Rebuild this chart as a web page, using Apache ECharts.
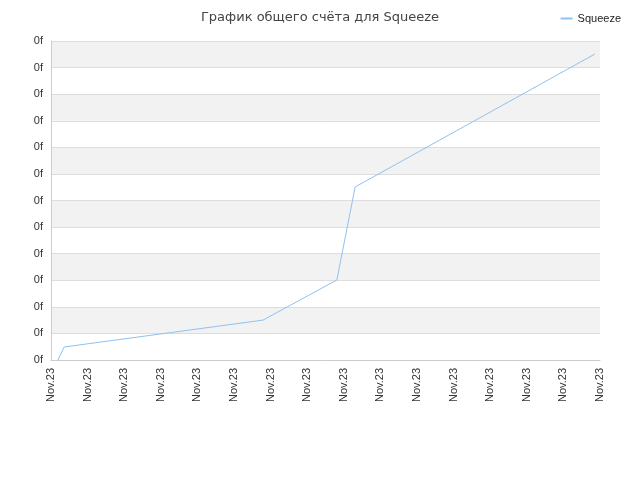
<!DOCTYPE html>
<html><head><meta charset="utf-8">
<script src="https://cdn.jsdelivr.net/npm/echarts@6/dist/echarts.min.js"></script>
<style>body{margin:0}#c{width:640px;height:480px}</style>
</head><body><div id="c"></div>
<script>
const titleText = 'График общего счёта для Squeeze';
const seriesName = 'Squeeze';
const xTickLabel = 'Nov.23';
const yTickLabel = '0f';
const xs = [0.19, 0.36, 5.79, 7.81, 8.31, 14.86];
const ys = [0, 0.49, 1.5, 3.01, 6.51, 11.51];

const ch = echarts.init(document.getElementById('c'));
ch.setOption({
    animation: false,
    title: { text: titleText, left: 'center', top: 6, textStyle: { fontSize: 13, fontWeight: 'normal', color: '#444', fontFamily: 'DejaVu Sans' } },
    legend: { right: 14, top: 8, itemWidth: 12, itemHeight: 2, icon: 'rect', textStyle: { fontSize: 11, color: '#222' }, data: [seriesName] },
    grid: { left: 51, right: 40, top: 41, bottom: 120 },
    xAxis: {
        type: 'value', min: 0, max: 15, interval: 1,
        axisLine: { lineStyle: { color: '#ccc' } }, axisTick: { show: false },
        splitLine: { show: false },
        axisLabel: { rotate: 90, formatter: () => xTickLabel, color: '#333', fontSize: 11 }
    },
    yAxis: {
        type: 'value', min: 0, max: 12, interval: 1,
        axisLine: { show: true, lineStyle: { color: '#ccc' } }, axisTick: { show: false },
        splitLine: { lineStyle: { color: '#ddd' } },
        splitArea: { show: true, areaStyle: { color: ['#ffffff', '#f2f2f2'] } },
        axisLabel: { formatter: () => yTickLabel, color: '#333', fontSize: 11 }
    },
    series: [{
        name: seriesName, type: 'line', symbol: 'none',
        lineStyle: { color: '#90c0f0', width: 1 }, itemStyle: { color: '#90c0f0' },
        data: xs.map((x, i) => [x, ys[i]])
    }]
});
</script></body></html>
